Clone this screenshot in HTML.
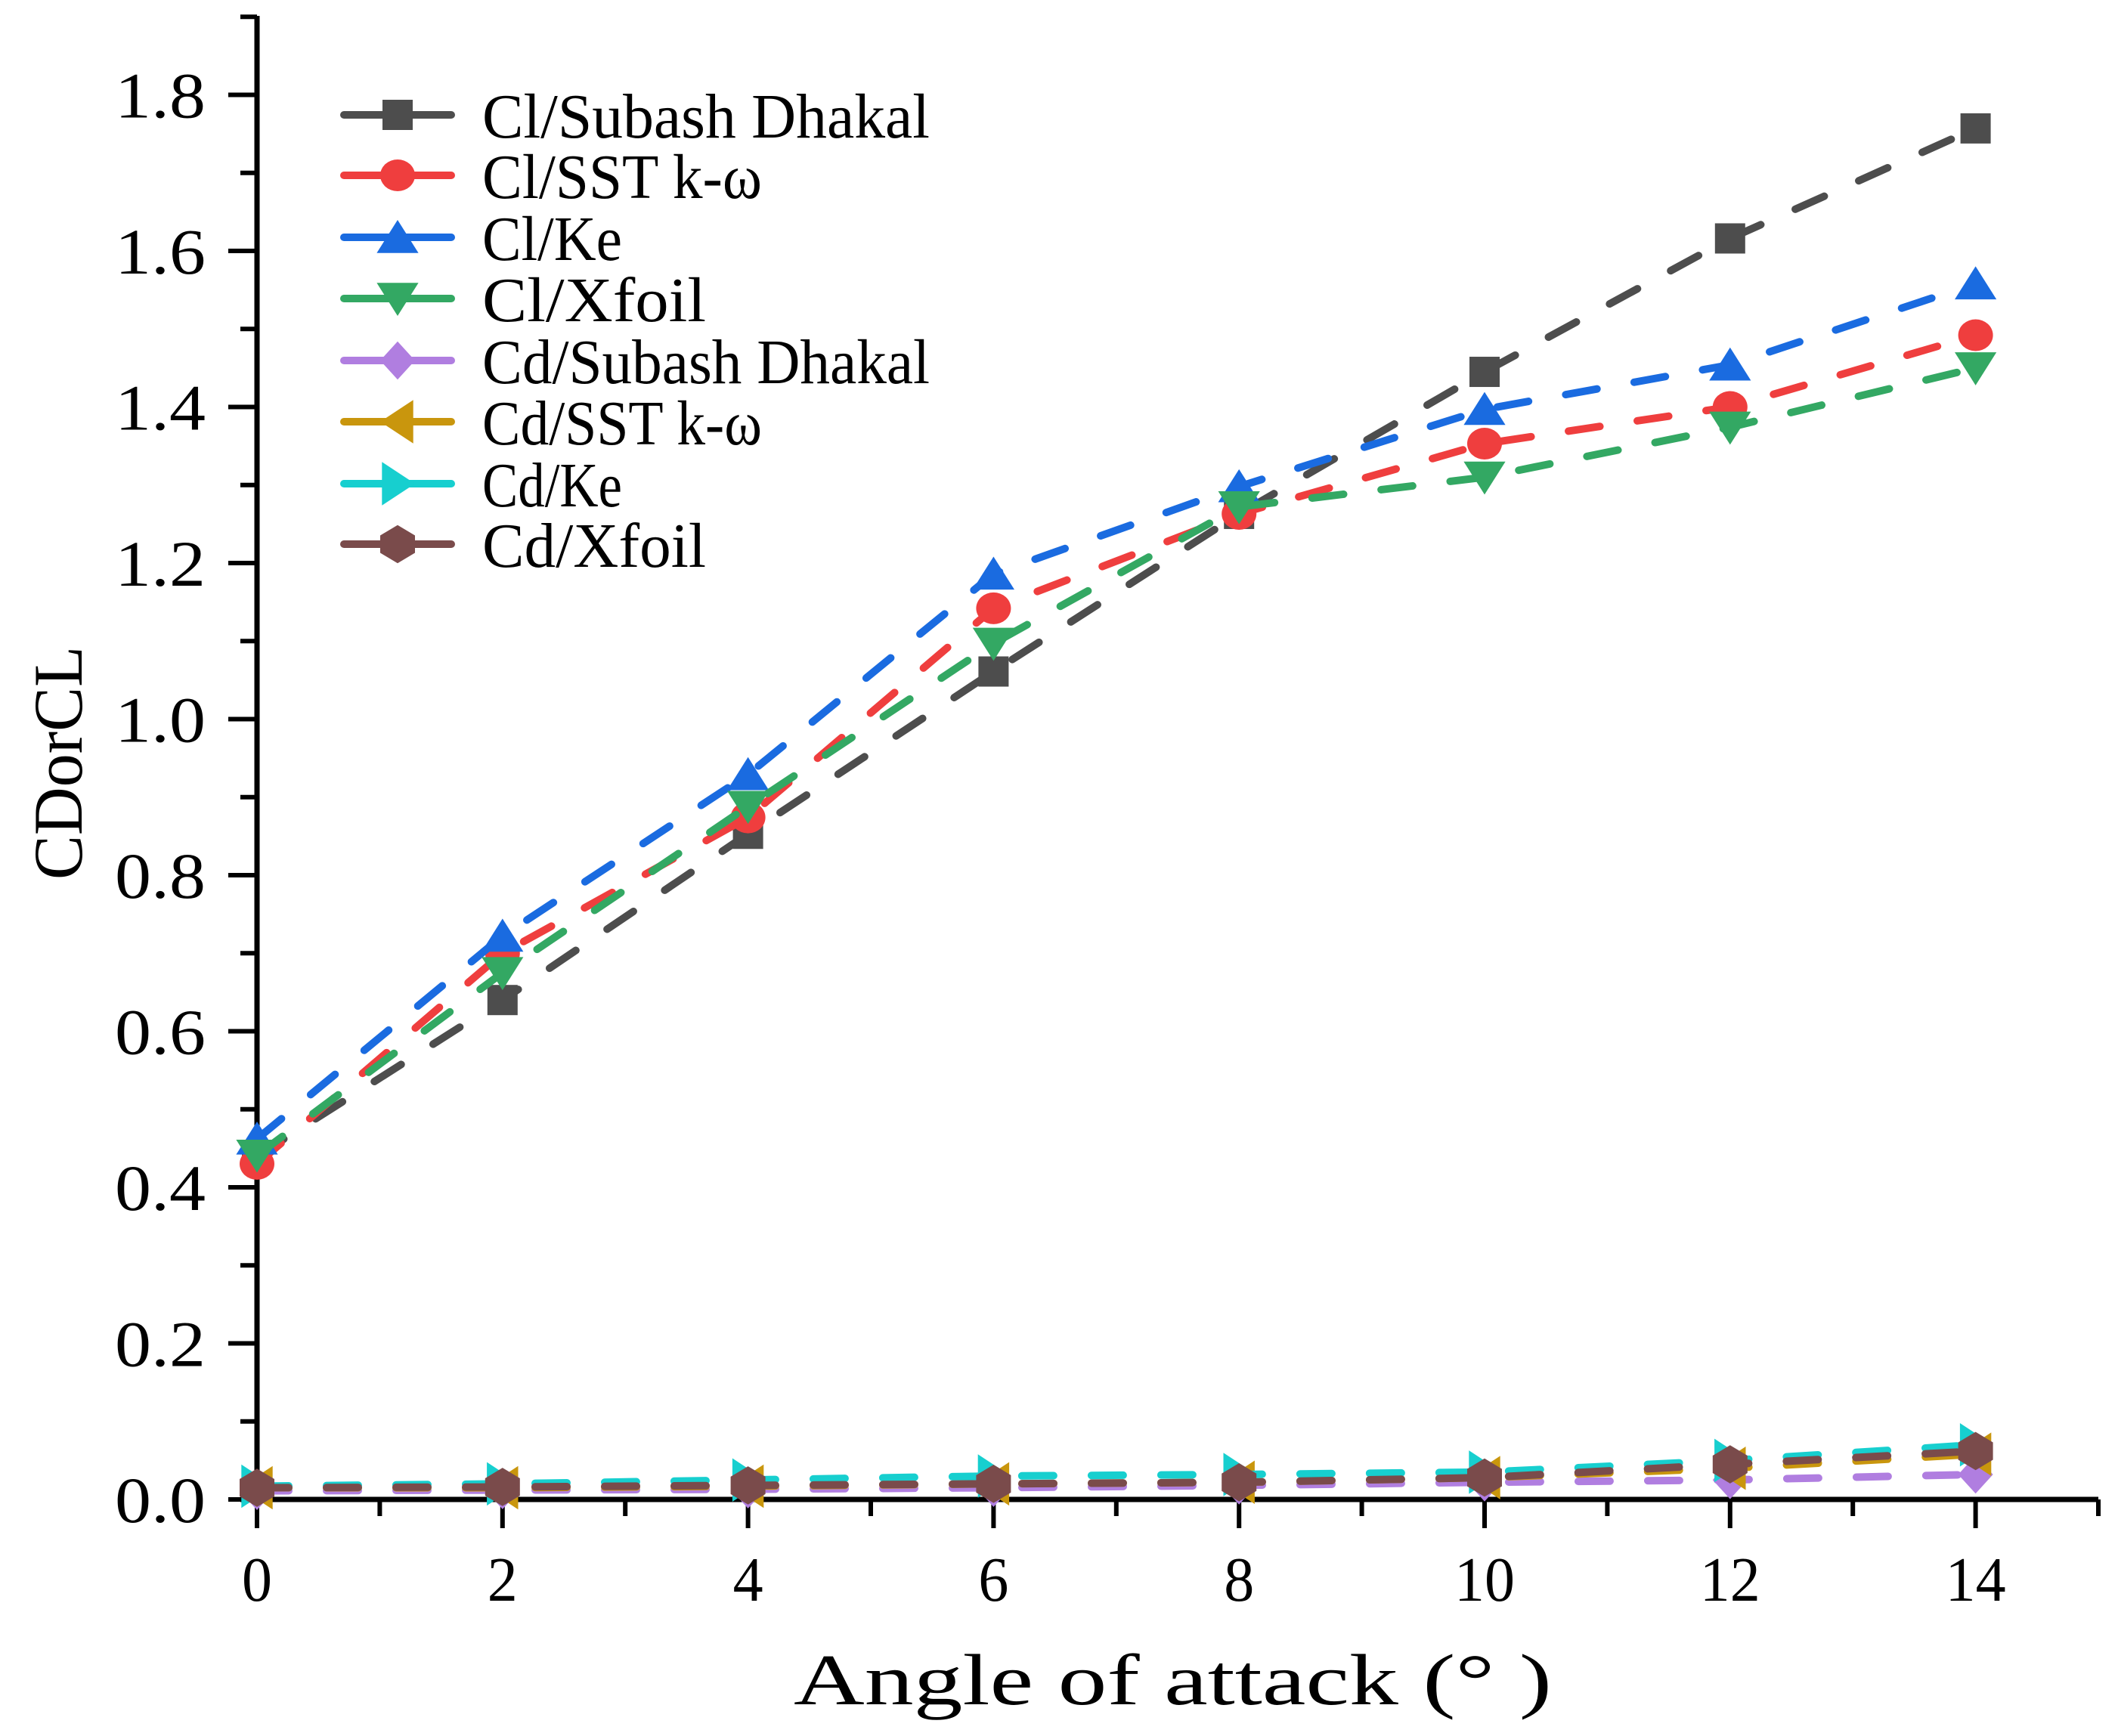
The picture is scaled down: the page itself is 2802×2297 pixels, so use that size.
<!DOCTYPE html>
<html><head><meta charset="utf-8"><style>
html,body{margin:0;padding:0;background:#fff;}
svg text{font-family:"Liberation Serif","Noto Serif CJK SC",serif;}
</style></head><body>
<svg id="chart" width="2802" height="2292" viewBox="0 0 2802 2292" xmlns="http://www.w3.org/2000/svg">
<g id="axes"></g>
<g id="series"></g>
<g id="legend"></g>
<text x="1050" y="2255" font-size="96" textLength="1003" lengthAdjust="spacingAndGlyphs">Angle of attack (° )</text>
<text transform="translate(108,1010) rotate(-90)" font-size="92" x="-154" textLength="309" lengthAdjust="spacingAndGlyphs">CDorCL</text>
</svg>
<script>
const angles=[0,2,4,6,8,10,12,14];
const clSubash=[0.44,0.64,0.853,1.061,1.263,1.445,1.616,1.757];
const clSST=[0.43,0.70,0.874,1.142,1.263,1.353,1.40,1.492];
const clKe=[0.462,0.722,0.929,1.186,1.298,1.397,1.454,1.558];
const clXfoil=[0.441,0.675,0.888,1.097,1.272,1.31,1.374,1.45];
const cdSubash=[0.011,0.012,0.013,0.015,0.018,0.022,0.025,0.032];
const cdSST=[0.015,0.015,0.017,0.02,0.022,0.028,0.04,0.058];
const cdKe=[0.017,0.02,0.025,0.03,0.032,0.035,0.05,0.07];
const cdXfoil=[0.015,0.016,0.018,0.02,0.022,0.028,0.045,0.062];
const seriesNames=["Cl/Subash Dhakal","Cl/SST k-ω","Cl/Ke","Cl/Xfoil","Cd/Subash Dhakal","Cd/SST k-ω","Cd/Ke","Cd/Xfoil"];
const xTicks=[0,2,4,6,8,10,12,14];
const yTicks=["0.0","0.2","0.4","0.6","0.8","1.0","1.2","1.4","1.6","1.8"];

const NS="http://www.w3.org/2000/svg";
const X0=340,XS=162.4,Y0=1984,YS=1032.5;
const xs=v=>X0+v*XS, ys=v=>Y0-v*YS;
function mk(tag,attrs,parent){const e=document.createElementNS(NS,tag);for(const k in attrs)e.setAttribute(k,attrs[k]);parent.appendChild(e);return e;}
const axes=document.getElementById('axes');
let e;
e=mk('line',{x1:X0,y1:21,x2:X0,y2:Y0+3,stroke:'#000','stroke-width':7},axes);


e=mk('line',{x1:X0-22,y1:Y0,x2:2776,y2:Y0,stroke:'#000','stroke-width':7},axes);


for(let i=0;i<=15;i++){
  const maj=i%2===0;
  e=mk('line',{x1:xs(i),y1:Y0,x2:xs(i),y2:Y0+(maj?38:22),stroke:'#000','stroke-width':6},axes);
  
  
}
xTicks.forEach(t=>{
  const s=String(t);
  e=mk('text',{x:xs(t)-s.length*20,y:2118,'font-size':84,textLength:s.length*40,lengthAdjust:'spacingAndGlyphs'},axes);e.textContent=s;
  
  
});
for(let i=0;i<=19;i++){
  const maj=i%2===0;
  e=mk('line',{x1:X0-(maj?38:22),y1:ys(i/10),x2:X0,y2:ys(i/10),stroke:'#000','stroke-width':6},axes);
  
  
}
yTicks.forEach(t=>{
  e=mk('text',{x:152,y:ys(parseFloat(t))+30,'font-size':86,textLength:120,lengthAdjust:'spacingAndGlyphs'},axes);e.textContent=t;
  
  
});

const colors=['#4d4d4d','#ef3e3e','#1a6be0','#33a863','#b07ee0','#c9960d','#17cfcf','#7a4b4b'];
const shapes=['square','circle','up','down','diamond','left','right','hex'];
const data=[clSubash,clSST,clKe,clXfoil,cdSubash,cdSST,cdKe,cdXfoil];
function marker(shape,cx,cy,c,parent){
  const r=23;let el;
  if(shape==='square')el=mk('rect',{x:cx-20,y:cy-20,width:40,height:40,fill:c},parent);
  else if(shape==='circle')el=mk('ellipse',{cx:cx,cy:cy,rx:23,ry:21,fill:c},parent);
  else{
    let pts;
    if(shape==='up')pts=[[0,-r],[r*1.2,r*0.9],[-r*1.2,r*0.9]];
    else if(shape==='down')pts=[[0,r],[r*1.2,-r*0.9],[-r*1.2,-r*0.9]];
    else if(shape==='diamond')pts=[[0,-r*1.1],[r,0],[0,r*1.1],[-r,0]];
    else if(shape==='left')pts=[[-r,0],[r*0.9,-r*1.25],[r*0.9,r*1.25]];
    else if(shape==='right')pts=[[r,0],[-r*0.9,-r*1.25],[-r*0.9,r*1.25]];
    else pts=[[0,-r*1.1],[r,-r*0.5],[r,r*0.5],[0,r*1.1],[-r,r*0.5],[-r,-r*0.5]];
    el=mk('polygon',{points:pts.map(p=>(cx+p[0])+','+(cy+p[1])).join(' '),fill:c},parent);
  }
  return el;
}
const sg=document.getElementById('series');
data.forEach((arr,i)=>{
  const g=mk('g',{},sg);
  
  
  const pl=mk('polyline',{points:arr.map((v,j)=>xs(angles[j])+','+ys(v)).join(' '),fill:'none',stroke:colors[i],'stroke-width':10,'stroke-dasharray':'42 50','stroke-linecap':'round'},g);
  
  
  arr.forEach((v,j)=>{
    const m=marker(shapes[i],xs(angles[j]),ys(v),colors[i],g);
    
    
  });
});
const lg=document.getElementById('legend');
const rows=[152,232,314,395,477,558,640,720];
seriesNames.forEach((n,i)=>{
  const g=mk('g',{},lg);
  
  
  mk('line',{x1:455,y1:rows[i],x2:597,y2:rows[i],stroke:colors[i],'stroke-width':10,'stroke-linecap':'round'},g);
  marker(shapes[i],526,rows[i],colors[i],g);
  const t=mk('text',{x:638,y:rows[i]+30,'font-size':84,textLength:n.length*37,lengthAdjust:'spacingAndGlyphs'},g);t.textContent=n;
});
</script>
</body></html>
